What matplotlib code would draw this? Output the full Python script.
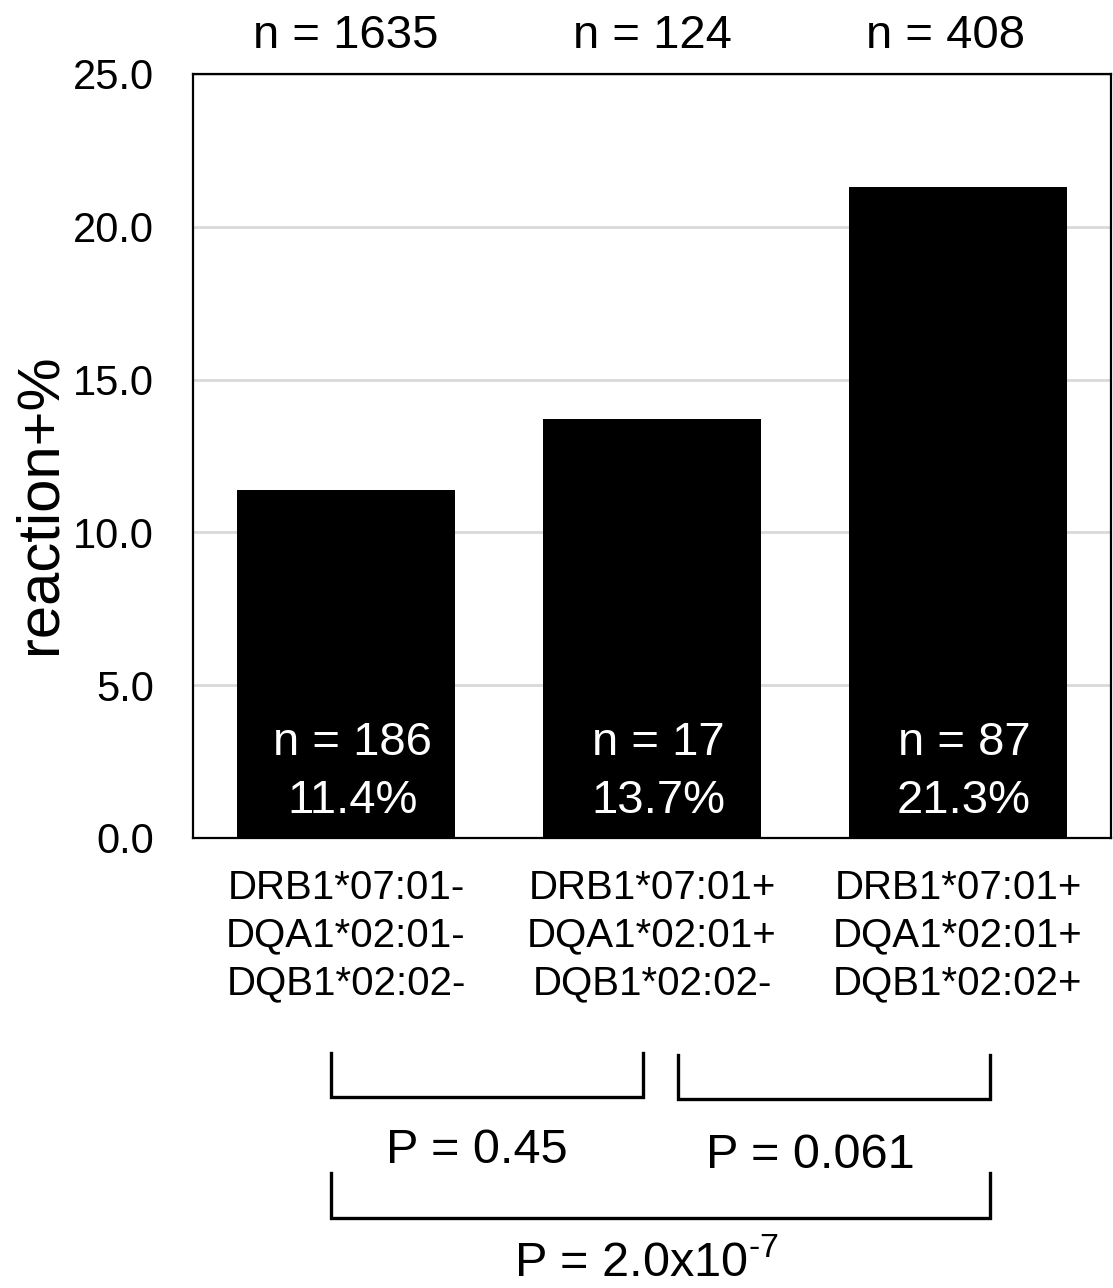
"""Reaction rate by HLA haplotype carrier status.
"""
import matplotlib
matplotlib.use('Agg')
import matplotlib.pyplot as plt
from matplotlib.transforms import blended_transform_factory

plt.rcParams['font.family'] = ['Liberation Sans', 'DejaVu Sans']
plt.rcParams['mathtext.fontset'] = 'custom'
plt.rcParams['mathtext.rm'] = 'Liberation Sans'

categories = ['DRB1*07:01-\nDQA1*02:01-\nDQB1*02:02-',
              'DRB1*07:01+\nDQA1*02:01+\nDQB1*02:02-',
              'DRB1*07:01+\nDQA1*02:01+\nDQB1*02:02+']
reaction_pct = [11.4, 13.7, 21.3]
n_total = [1635, 124, 408]
n_reaction = [186, 17, 87]
yticks = [0.0, 5.0, 10.0, 15.0, 20.0, 25.0]

# (left group, right group, p-value label)
comparisons = [(0, 1, 'P = 0.45'),
               (1, 2, 'P = 0.061'),
               (0, 2, r'P = 2.0x10$^{\text{-7}}$')]

font_size = 34

fig = plt.figure(figsize=(11.13, 12.88), dpi=100)
ax = fig.add_axes([0.1734, 0.3494, 0.8248, 0.5932])

x = list(range(len(categories)))
ax.bar(x, reaction_pct, width=0.71, color='black', zorder=3)

ax.set_xlim(-0.5, 2.5)
ax.set_ylim(0, 25)
ax.set_yticks(yticks)
ax.set_yticklabels(['{:.1f}'.format(v) for v in yticks], fontsize=30)
ax.set_xticks(x)
ax.set_xticklabels(categories, fontsize=29, linespacing=1.33)
ax.tick_params(axis='y', length=0, pad=28)
ax.tick_params(axis='x', length=0, pad=22)
ax.yaxis.grid(True, color='#d9d9d9', linewidth=2, zorder=0)
ax.set_axisbelow(True)
for s in ax.spines.values():
    s.set_linewidth(1.6)
ax.set_ylabel('reaction+%', fontsize=43)
ax.yaxis.set_label_coords(-0.137, 0.437)

# labels inside and above bars
top_shift = [0.0, 0.0, -0.04]
for i, (pct, nr, nt) in enumerate(zip(reaction_pct, n_reaction, n_total)):
    ax.text(i + 0.02, 2.72, 'n = {}'.format(nr), color='white',
            fontsize=font_size, ha='center', va='baseline', zorder=4)
    ax.text(i + 0.02, 0.82, '{:.1f}%'.format(pct), color='white',
            fontsize=font_size, ha='center', va='baseline', zorder=4)
    ax.text(i + top_shift[i], 25.85, 'n = {}'.format(nt), fontsize=font_size,
            ha='center', va='baseline', clip_on=False)

# significance brackets below the axis
trans = blended_transform_factory(ax.transData, fig.transFigure)
bracket_rows = [(0.1825, 0.1483, 1 - 1163 / 1288.),
                (0.1810, 0.1468, 1 - 1168 / 1288.),
                (0.0893, 0.0543, 1 - 1276 / 1288.)]
x_shift = [(-0.05, -0.03), (0.085, 0.105), (-0.05, 0.105)]
text_shift = [-0.033, -0.078, -0.046]
for (a, b, label), (top, bot, text_y), (da, db), dt in zip(
        comparisons, bracket_rows, x_shift, text_shift):
    xa = a + da
    xb = b + db
    ax.plot([xa, xa, xb, xb], [top, bot, bot, top], color='black',
            linewidth=2.4, transform=trans, clip_on=False,
            solid_joinstyle='miter')
    ax.text((xa + xb) / 2. + dt, text_y, label, fontsize=35,
            ha='center', va='baseline', transform=trans)

fig.savefig('out.png', dpi=100)
